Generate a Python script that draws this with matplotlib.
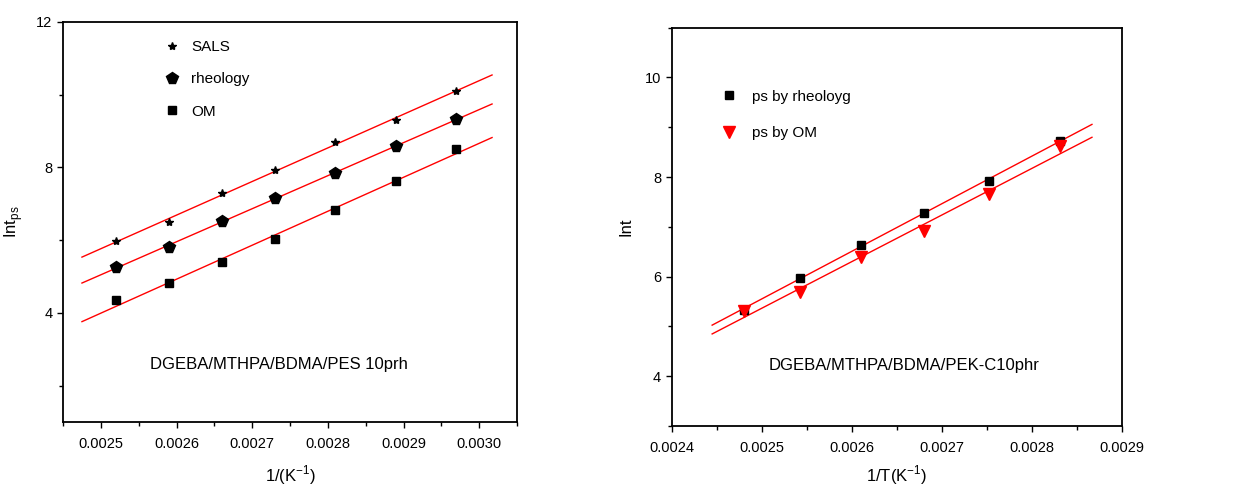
import numpy as np
import matplotlib
matplotlib.use("Agg")
import matplotlib.pyplot as plt
from matplotlib.ticker import MultipleLocator, FormatStrFormatter

plt.rcParams['font.family'] = ['Liberation Sans', 'DejaVu Sans']
plt.rcParams['mathtext.fontset'] = 'custom'
plt.rcParams['mathtext.rm'] = 'Liberation Sans'

# ----- data: left panel (PES 10phr) -----
x_left = [0.00252, 0.00259, 0.00266, 0.00273, 0.00281, 0.00289, 0.00297]
sals = [5.97, 6.49, 7.29, 7.94, 8.70, 9.30, 10.10]
rheology = [5.25, 5.82, 6.52, 7.16, 7.85, 8.59, 9.32]
om = [4.35, 4.81, 5.39, 6.03, 6.83, 7.62, 8.52]
fit_range_left = [0.002475, 0.003017]

# ----- data: right panel (PEK-C 10phr) -----
x_right = [0.002480, 0.002543, 0.002610, 0.002680, 0.002753, 0.002831]
ps_rheology = [5.34, 5.97, 6.64, 7.27, 7.93, 8.73]
ps_om = [5.32, 5.69, 6.39, 6.91, 7.65, 8.62]
fit_range_right = [0.002445, 0.002867]


def fit_line(ax, x, y, xr):
    k, b = np.polyfit(x, y, 1)
    xs = np.array(xr)
    ax.plot(xs, k * xs + b, color='red', lw=1.0, zorder=1)


def style_axes(ax):
    for s in ax.spines.values():
        s.set_linewidth(1.3)
    ax.tick_params(which='both', direction='out', labelsize=10.5, width=1.0)
    ax.tick_params(which='major', length=4)
    ax.tick_params(which='minor', length=3)
    ax.tick_params(axis='x', which='major', pad=7)


fig = plt.figure(figsize=(12.36, 4.92), dpi=100)

# ----- left panel -----
ax1 = fig.add_axes([0.051, 0.1423, 0.3673, 0.813])
ax1.plot(x_left, sals, ls='none', marker='*', ms=6, color='black', label='SALS', zorder=3)
ax1.plot(x_left, rheology, ls='none', marker='p', ms=8.5, color='black', label='rheology', zorder=3)
ax1.plot(x_left, om, ls='none', marker='s', ms=6, color='black', label='OM', zorder=3)
for ys in (sals, rheology, om):
    fit_line(ax1, x_left, ys, fit_range_left)
ax1.set_xlim(0.00245, 0.00305)
ax1.set_ylim(1, 12)
ax1.xaxis.set_major_locator(MultipleLocator(0.0001))
ax1.xaxis.set_minor_locator(MultipleLocator(0.00005))
ax1.xaxis.set_major_formatter(FormatStrFormatter('%.4f'))
ax1.yaxis.set_major_locator(MultipleLocator(4))
ax1.yaxis.set_minor_locator(MultipleLocator(2))
style_axes(ax1)
ax1.set_xlabel(r'1/(K$^{\mathregular{-1}}$)', fontsize=12, labelpad=9)
ax1.set_ylabel(r'Int$_{\mathregular{ps}}$', fontsize=12, labelpad=8)
ax1.text(0.002735, 2.57, 'DGEBA/MTHPA/BDMA/PES 10prh', fontsize=12,
         ha='center', va='center')
ax1.legend(loc='upper left', bbox_to_anchor=(0.223, 0.955), frameon=False,
           numpoints=1, handlelength=1.0, handletextpad=0.75, borderpad=0,
           borderaxespad=0, labelspacing=1.2, fontsize=11)

# ----- right panel -----
ax2 = fig.add_axes([0.5434, 0.1341, 0.3641, 0.8096])
ax2.plot(x_right, ps_rheology, ls='none', marker='s', ms=6, color='black',
         label='ps by rheoloyg', zorder=3)
ax2.plot(x_right, ps_om, ls='none', marker='v', ms=8, color='red',
         label='ps by OM', zorder=4)
fit_line(ax2, x_right, ps_rheology, fit_range_right)
fit_line(ax2, x_right, ps_om, fit_range_right)
ax2.set_xlim(0.0024, 0.0029)
ax2.set_ylim(3, 11)
ax2.xaxis.set_major_locator(MultipleLocator(0.0001))
ax2.xaxis.set_minor_locator(MultipleLocator(0.00005))
ax2.xaxis.set_major_formatter(FormatStrFormatter('%.4f'))
ax2.yaxis.set_major_locator(MultipleLocator(2))
ax2.yaxis.set_minor_locator(MultipleLocator(1))
style_axes(ax2)
ax2.set_xlabel(r'1/T(K$^{\mathregular{-1}}$)', fontsize=12, labelpad=6)
ax2.set_ylabel('Int', fontsize=12, labelpad=8)
ax2.text(0.002658, 4.22, 'DGEBA/MTHPA/BDMA/PEK-C10phr', fontsize=12,
         ha='center', va='center')
ax2.legend(loc='upper left', bbox_to_anchor=(0.110, 0.844), frameon=False,
           numpoints=1, handlelength=1.0, handletextpad=1.0, borderpad=0,
           borderaxespad=0, labelspacing=1.45, fontsize=11)

fig.savefig('out.png', dpi=100)
plt.close(fig)
